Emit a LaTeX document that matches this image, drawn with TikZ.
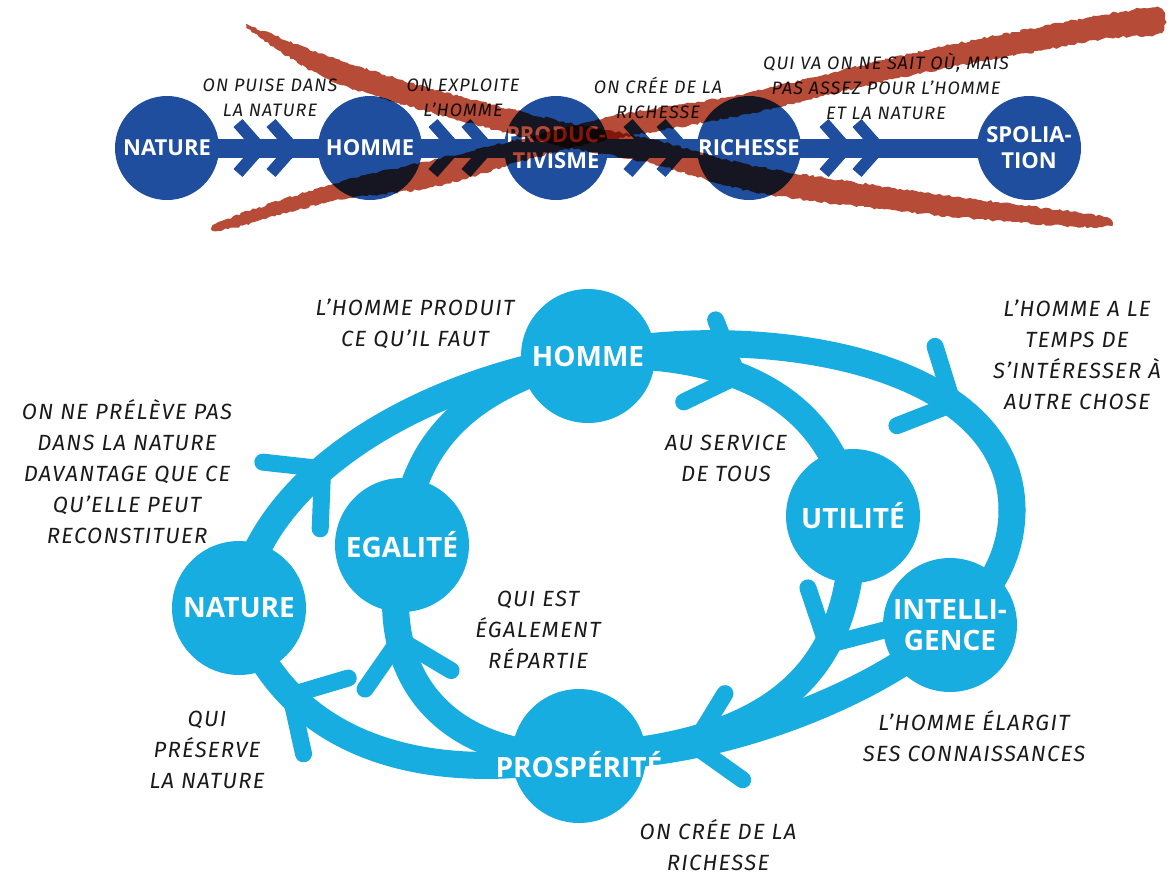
\documentclass[tikz,border=0pt]{standalone}
\usepackage{fontspec}
\setmainfont{Open Sans}
\newfontfamily\handfont{Fira Sans}[LetterSpace=6]
\usetikzlibrary{backgrounds,decorations.pathmorphing}
\definecolor{dblue}{HTML}{1F4E9F}
\definecolor{lblue}{HTML}{17ADE1}
\definecolor{brick}{HTML}{B64B37}
\definecolor{ink}{HTML}{1A1A1A}
\tikzset{
  tcirc/.style={
    circle,
    fill = dblue,
    inner sep = 0pt,
    minimum size = 104pt
  },
  bcirc/.style={
    circle,
    fill = lblue,
    inner sep = 0pt,
    minimum size = 134pt
  },
}
\tikzset{
  tlab/.style={
    text = white,
    font = \bfseries\fontsize{22}{26}\selectfont,
    align = center,
    inner sep = 0pt
  },
  blab/.style={
    text = white,
    font = \bfseries\fontsize{28}{31}\selectfont,
    align = center,
    inner sep = 0pt
  },
  tnote/.style={
    text = ink,
    font = \handfont\itshape\fontsize{18}{25}\selectfont,
    align = center
  },
  bnote/.style={
    text = ink,
    font = \handfont\itshape\fontsize{22}{31}\selectfont,
    align = center
  },
}
\tikzset{
  tbar/.style={line width=19pt, draw=dblue},
  tbarb/.style={line width=12pt, draw=dblue},
  band/.style={line width=27pt, draw=lblue, line cap=round},
  barb/.style={line width=17pt, draw=lblue, line cap=round, line join=round},
  tchev/.pic={\draw[tbarb] (-22,-25) -- (0,0) -- (-22,25);},
  chev/.pic={\draw[barb] (-41,-44) -- (0,0) -- (-41,44);},
  onarc/.style={pos=#1, sloped, allow upside down},
  brush/.style={
    fill = brick,
    decorate,
    decoration={random steps, segment length=3pt, amplitude=1.2pt}
  },
}

\begin{document}
\begin{tikzpicture}[x=1pt, y=-1pt]
    \useasboundingbox (0,0) rectangle (1174,876);

    % the row that is crossed out
    \node[tcirc, label={[tlab]center:NATURE}] (tNat) at (167,148) {};
    \node[tcirc, label={[tlab]center:HOMME}] (tHom) at (370,148) {};
    \node[tcirc, label={[tlab]center:{PRODUC-\\TIVISME}}] (tPro) at (556,148) {};
    \node[tcirc, label={[tlab]center:RICHESSE}] (tRic) at (749,148) {};
    \node[tcirc, label={[tlab]center:{SPOLIA-\\TION}}] (tSpo) at (1029,148) {};

    \foreach \cx in {260,293,455,488,650,683,846,879}
        \pic at (\cx,148) {tchev};

    \node[tnote] (tn1) at (270,98) {ON PUISE DANS\\LA NATURE};
    \node[tnote] (tn2) at (463,98) {ON EXPLOITE\\L’HOMME};
    \node[tnote] (tn3) at (658,98) {ON CRÉE DE LA\\RICHESSE};
    \node[tnote] (tn4) at (886,86) {QUI VA ON NE SAIT OÙ, MAIS\\PAS ASSEZ POUR L’HOMME\\ET LA NATURE};

    % the cycle
    \node[bcirc, label={[blab]center:HOMME}] (bHom) at (588,356) {};
    \node[bcirc, label={[blab]center:UTILITÉ}] (bUti) at (853,516) {};
    \node[bcirc, label={[blab]center:{INTELLI-\\GENCE}}] (bInt) at (950,625) {};
    \node[bcirc, label={[blab,yshift=-9pt]center:PROSPÉRITÉ}] (bPro) at (579,756) {};
    \node[bcirc, label={[blab]center:NATURE}] (bNat) at (239,608) {};
    \node[bcirc, label={[blab]center:EGALITÉ}] (bEga) at (402,545) {};
    \coordinate (bEast) at (1012,510);

    \node[bnote] (n1) at (415,324) {L’HOMME PRODUIT\\CE QU’IL FAUT};
    \node[bnote] (n2) at (127,472) {ON NE PRÉLÈVE PAS\\DANS LA NATURE\\DAVANTAGE QUE CE\\QU’ELLE PEUT\\RECONSTITUER};
    \node[bnote] (n3) at (726,458) {AU SERVICE\\DE TOUS};
    \node[bnote] (n4) at (1077,355) {L’HOMME A LE\\TEMPS DE\\S’INTÉRESSER À\\AUTRE CHOSE};
    \node[bnote] (n5) at (538,630) {QUI EST\\ÉGALEMENT\\RÉPARTIE};
    \node[bnote] (n6) at (207,750) {QUI\\PRÉSERVE\\LA NATURE};
    \node[bnote] (n7) at (974,736) {L’HOMME ÉLARGIT\\SES CONNAISSANCES};
    \node[bnote] (n8) at (718,845) {ON CRÉE DE LA\\RICHESSE};

    \begin{scope}[on background layer]
        \fill[white] (0,0) rectangle (1174,876);
        \draw[tbar] (tNat.center) -- (tHom.center) -- (tPro.center) -- (tRic.center) -- (tSpo.center);

        % outer loop
        \draw[band] (bNat.center) .. controls (255,485) and (405,385) .. (bHom.center) pic[onarc=0.42] {chev};
        \draw[band] (bHom.center) .. controls (760,320) and (1012,360) .. (bEast) pic[onarc=0.7, rotate=10] {chev};
        \draw[band] (bEast) .. controls (1012,560) and (985,600) .. (bInt.center);
        \draw[band] (bInt.center) .. controls (900,680) and (730,760) .. (bPro.center) pic[onarc=0.75] {chev};
        \draw[band] (bPro.center) .. controls (430,785) and (285,750) .. (bNat.center) pic[onarc=0.75, rotate=15] {chev};

        % inner loop
        \draw[band] (bHom.center) .. controls (720,350) and (830,390) .. (bUti.center) pic[onarc=0.42] {chev};
        \draw[band] (bUti.center) .. controls (855,660) and (790,745) .. (bPro.center) pic[onarc=0.35] {chev};
        \draw[band] (bPro.center) .. controls (460,760) and (370,690) .. (bEga.center) pic[onarc=0.75] {chev};
        \draw[band] (bEga.center) .. controls (410,440) and (470,385) .. (bHom.center);
    \end{scope}

    % the two red strokes
    \begin{scope}[blend mode=multiply]
        \fill[brush] plot[smooth cycle, tension=0.6] coordinates {
            (252,27) (330,57) (433,89) (556,120) (650,139) (750,165) (880,186) (1013,204) (1104,217)
            (1100,227) (1013,222) (880,209) (750,191) (650,163) (556,145) (433,113) (330,80) (264,40)};
        \fill[brush] plot[smooth cycle, tension=0.6] coordinates {
            (222,221) (333,184) (433,160) (533,136) (613,116) (747,93) (913,53) (1050,25) (1120,12) (1160,8)
            (1160,33) (1110,38) (1050,49) (913,75) (747,114) (613,139) (533,158) (433,187) (333,201) (228,229)};
    \end{scope}
\end{tikzpicture}
\end{document}
